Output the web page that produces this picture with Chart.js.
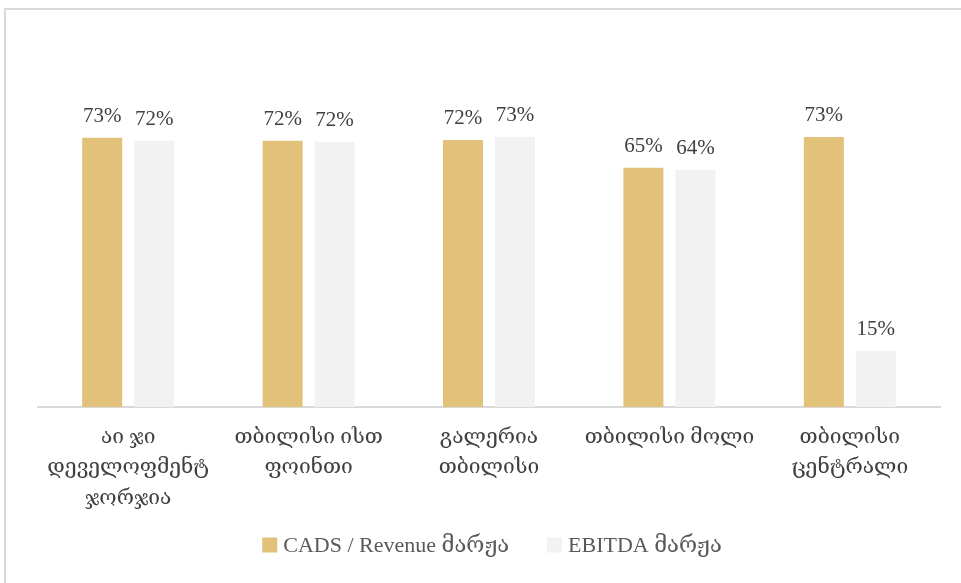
<!DOCTYPE html>
<html>
<head>
<meta charset="utf-8">
<script src="https://cdn.jsdelivr.net/npm/chart.js@4"></script>
<style>
  html, body { margin: 0; padding: 0; background: #fff; overflow: hidden; }
  #wrap { position: relative; width: 961px; height: 583px; }
  #frame { position: absolute; left: 4px; top: 8px; width: 1200px; height: 1200px;
           border-top: 2px solid #d9d9d9; border-left: 2px solid #d9d9d9; }
  canvas { position: absolute; left: 0; top: 0; }
</style>
</head>
<body>
<div id="wrap">
  <div id="frame"></div>
  <canvas id="marginChart" width="961" height="583"></canvas>
</div>
<script>
// categories (multi-line tick labels)
const categories = [
  ["აი ჯი", "დეველოფმენტ", "ჯორჯია"],
  ["თბილისი ისთ", "ფოინთი"],
  ["გალერია", "თბილისი"],
  ["თბილისი მოლი"],
  ["თბილისი", "ცენტრალი"]
];
const seriesNames = ["CADS / Revenue მარჟა", "EBITDA მარჟა"];
const cadsMargin = [73.0, 72.2, 72.4, 64.9, 73.2];
const ebitdaMargin = [72.2, 71.9, 73.2, 64.3, 15.2];

const FONT = "'Liberation Serif', 'DejaVu Serif', serif";
const TEXT = "#404040";

// value labels above bars
const barLabels = {
  id: "barLabels",
  afterDatasetsDraw(chart) {
    const ctx = chart.ctx;
    ctx.save();
    ctx.font = "21px " + FONT;
    ctx.fillStyle = TEXT;
    ctx.textAlign = "center";
    ctx.textBaseline = "bottom";
    chart.data.datasets.forEach((ds, i) => {
      chart.getDatasetMeta(i).data.forEach((bar, j) => {
        ctx.fillText(Math.round(ds.data[j]) + "%", bar.x, bar.y - 11);
      });
    });
    ctx.restore();
  }
};

// legend at the bottom, drawn by hand so the spacing matches
const bottomLegend = {
  id: "bottomLegend",
  afterDraw(chart) {
    const ctx = chart.ctx;
    const box = 15, gap = 6, itemGap = 38, y = 545;
    ctx.save();
    ctx.font = "22px " + FONT;
    ctx.textBaseline = "middle";
    const ds = chart.data.datasets;
    const widths = ds.map(d => ctx.measureText(d.label).width);
    let total = 0;
    widths.forEach((w, i) => { total += box + gap + w + (i ? itemGap : 0); });
    let x = 492 - total / 2;
    ds.forEach((d, i) => {
      ctx.fillStyle = d.backgroundColor;
      ctx.fillRect(x, y - box / 2, box, box);
      ctx.fillStyle = "#595959";
      ctx.fillText(d.label, x + box + gap, y + 1);
      x += box + gap + widths[i] + itemGap;
    });
    ctx.restore();
  }
};

new Chart(document.getElementById("marginChart"), {
  type: "bar",
  data: {
    labels: categories,
    datasets: [
      { label: seriesNames[0], data: cadsMargin, backgroundColor: "#e2c27b",
        categoryPercentage: 0.576, barPercentage: 0.77 },
      { label: seriesNames[1], data: ebitdaMargin, backgroundColor: "#f2f2f2",
        categoryPercentage: 0.576, barPercentage: 0.77 }
    ]
  },
  options: {
    responsive: false,
    animation: false,
    layout: { padding: { left: 38, right: 21, top: 112, bottom: 62 } },
    scales: {
      y: { display: false, min: 0, max: 80 },
      x: {
        grid: { display: false },
        border: { color: "#d9d9d9", width: 2 },
        ticks: { color: TEXT, font: { family: FONT, size: 21, lineHeight: 1.43 }, padding: 8, maxRotation: 0 }
      }
    },
    plugins: {
      tooltip: { enabled: false },
      legend: { display: false }
    }
  },
  plugins: [barLabels, bottomLegend]
});
</script>
</body>
</html>
